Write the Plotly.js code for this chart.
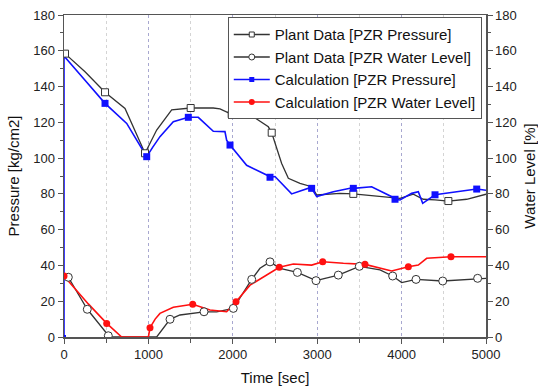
<!DOCTYPE html>
<html><head><meta charset="utf-8">
<script src="https://cdn.plot.ly/plotly-3.0.1.min.js"></script>
<style>html,body{margin:0;padding:0;background:#fff}#c{width:538px;height:388px}</style>
</head><body><div id="c"></div>
<script>
// Plant Data [PZR Pressure]
const plantPT = [12, 249, 486, 723, 960, 1098, 1276, 1501, 1768, 1848, 1987, 2204, 2421, 2461, 2579, 2658, 2796, 2934, 2994, 3270, 3428, 3665, 3902, 3981, 4139, 4257, 4396, 4554, 4771, 5000];
const plantPV = [158.4, 148.3, 136.8, 127.8, 102.7, 115.7, 127, 128, 128, 127.5, 124.5, 124.3, 117.5, 114.2, 97, 88.7, 85.9, 84, 79.4, 80.3, 80, 78.8, 78, 77.5, 79.8, 77, 76.6, 76, 77, 79.8];
const plantPMarkT = [12, 486, 960, 1501, 1987, 2461, 3428, 4554];
const plantPMarkV = [158.4, 136.8, 102.7, 128, 124.5, 114.2, 80, 76];
// Plant Data [PZR Water Level]
const plantLT = [12, 51, 276, 525, 540, 1098, 1256, 1374, 1659, 1809, 1927, 2006, 2224, 2322, 2441, 2559, 2765, 2986, 3250, 3499, 3744, 3894, 4001, 4171, 4487, 4692, 4901, 5000];
const plantLV = [32.8, 33.4, 15.5, 0.7, 0, 0, 9.9, 12.3, 14.1, 14.1, 15.1, 16, 32.2, 38.4, 42, 38.4, 36.1, 31.5, 34.6, 39.5, 37.5, 34.1, 30.4, 32.2, 31.3, 31.9, 32.8, 32.8];
const plantLMarkT = [51, 276, 525, 1256, 1659, 2006, 2224, 2441, 2765, 2986, 3250, 3499, 3894, 4171, 4487, 4901];
const plantLMarkV = [33.4, 15.5, 0.7, 9.9, 14.1, 16, 32.2, 42, 36.1, 31.5, 34.6, 39.5, 34.1, 32.2, 31.3, 32.8];
// Calculation [PZR Pressure]
const calcPT = [0, 0, 249, 486, 743, 980, 1050, 1137, 1295, 1473, 1591, 1769, 1907, 1927, 1967, 2164, 2401, 2441, 2500, 2697, 2915, 2934, 2994, 3191, 3389, 3428, 3645, 3902, 3922, 3981, 4119, 4198, 4250, 4396, 4890, 5000];
const calcPV = [0, 157, 143.5, 130.6, 119.4, 100.8, 106, 112, 120.4, 122.8, 122.8, 115, 114.8, 110, 107.3, 96, 90.6, 89.3, 89.7, 80, 83.5, 83.1, 78.5, 81.2, 83.1, 83.1, 84, 78, 77, 76.6, 80.3, 81.2, 74.7, 79.5, 82.7, 82];
const calcPMarkT = [486, 980, 1473, 1967, 2441, 2934, 3428, 3922, 4396, 4890];
const calcPMarkV = [130.6, 100.8, 122.8, 107.3, 89.3, 83.1, 83.1, 77, 79.5, 82.7];
// Calculation [PZR Water Level]
const calcLT = [0, 288, 506, 683, 1000, 1019, 1080, 1137, 1295, 1525, 1730, 1927, 2038, 2204, 2551, 2717, 2934, 3065, 3310, 3566, 3882, 4080, 4198, 4297, 4585, 5000];
const calcLV = [34.1, 18.5, 7.6, 0, 0, 5.2, 10, 13.2, 16.6, 18.3, 15.1, 14.1, 19.7, 29, 39, 40.8, 40.2, 42.1, 41.2, 40.6, 36.9, 39.3, 40.2, 44, 44.9, 44.9];
const calcLMarkT = [0, 506, 1019, 1525, 2038, 2551, 3065, 3566, 4080, 4585];
const calcLMarkV = [34.1, 7.6, 5.2, 18.3, 19.7, 39, 42.1, 40.6, 39.3, 44.9];

const names = ['Plant Data [PZR Pressure]', 'Plant Data [PZR Water Level]', 'Calculation [PZR Pressure]', 'Calculation [PZR Water Level]'];
const ticks = [0, 1000, 2000, 3000, 4000, 5000];
const yticks = [0, 20, 40, 60, 80, 100, 120, 140, 160, 180];

const blk = '#333333', blu = '#1010ff', red = '#ff1010';
const sqOpen = {symbol: 'square', size: 7, color: '#fff', line: {color: blk, width: 1}};
const ciOpen = {symbol: 'circle', size: 8, color: '#fff', line: {color: blk, width: 1}};
const sqFill = {symbol: 'square', size: 7, color: blu, line: {width: 0}};
const ciFill = {symbol: 'circle', size: 7, color: red, line: {width: 0}};
const sqOpenL = {symbol: 'square', size: 5, color: '#fff', line: {color: blk, width: 1}};
const ciOpenL = {symbol: 'circle', size: 6, color: '#fff', line: {color: blk, width: 1}};
const sqFillL = {symbol: 'square', size: 5, color: blu, line: {width: 0}};
const ciFillL = {symbol: 'circle', size: 6, color: red, line: {width: 0}};

const traces = [
  {x: plantPT, y: plantPV, mode: 'lines', line: {color: blk, width: 1.3}, showlegend: false, yaxis: 'y'},
  {x: plantLT, y: plantLV, mode: 'lines', line: {color: blk, width: 1.3}, showlegend: false, yaxis: 'y2'},
  {x: calcPT, y: calcPV, mode: 'lines', line: {color: blu, width: 1.6}, showlegend: false, yaxis: 'y'},
  {x: calcLT, y: calcLV, mode: 'lines', line: {color: red, width: 1.6}, showlegend: false, yaxis: 'y2'},
  {x: plantPMarkT, y: plantPMarkV, mode: 'markers', marker: sqOpen, showlegend: false, yaxis: 'y'},
  {x: plantLMarkT, y: plantLMarkV, mode: 'markers', marker: ciOpen, showlegend: false, yaxis: 'y2'},
  {x: calcPMarkT, y: calcPMarkV, mode: 'markers', marker: sqFill, showlegend: false, yaxis: 'y'},
  {x: [0], y: [0], mode: 'markers', marker: {symbol: 'square', size: 4, color: blu}, showlegend: false, yaxis: 'y'},
  {x: calcLMarkT, y: calcLMarkV, mode: 'markers', marker: ciFill, showlegend: false, yaxis: 'y2'},
  {x: [null], y: [null], mode: 'lines+markers', name: names[0], line: {color: blk, width: 1.3}, marker: sqOpenL, yaxis: 'y'},
  {x: [null], y: [null], mode: 'lines+markers', name: names[1], line: {color: blk, width: 1.3}, marker: ciOpenL, yaxis: 'y'},
  {x: [null], y: [null], mode: 'lines+markers', name: names[2], line: {color: blu, width: 1.6}, marker: sqFillL, yaxis: 'y'},
  {x: [null], y: [null], mode: 'lines+markers', name: names[3], line: {color: red, width: 1.6}, marker: ciFillL, yaxis: 'y'}
];

const ff = 'Arial, Liberation Sans, sans-serif';
const axFont = {family: ff, size: 13, color: '#222'};
const layout = {
  width: 538, height: 388,
  margin: {l: 64, r: 52, t: 15, b: 51},
  paper_bgcolor: '#fff', plot_bgcolor: '#fff',
  font: axFont,
  xaxis: {
    range: [0, 5000], tickvals: ticks, ticktext: ticks.map(String),
    showline: true, mirror: true, linecolor: '#555', linewidth: 1.5,
    ticks: 'outside', ticklen: 5, tickcolor: '#555',
    showgrid: true, gridcolor: '#a8a8d0', griddash: 'dot', gridwidth: 1,
    minor: {dtick: 500, tick0: 0, showgrid: true, gridcolor: '#d4d4d4', griddash: 'dot', ticks: 'outside', ticklen: 4, tickcolor: '#555'},
    zeroline: false, tickfont: axFont,
    title: {text: 'Time [sec]', font: {family: ff, size: 15, color: '#111'}, standoff: 11}
  },
  yaxis: {
    range: [0, 180], tickvals: yticks,
    showline: true, mirror: true, linecolor: '#555', linewidth: 1.5,
    ticks: 'outside', ticklen: 5, tickcolor: '#555',
    minor: {dtick: 10, ticks: 'outside', ticklen: 3, tickcolor: '#555'},
    showgrid: false, zeroline: false, tickfont: axFont,
    title: {text: 'Pressure [kg/cm2]', font: {family: ff, size: 15, color: '#111'}, standoff: 10}
  },
  yaxis2: {
    range: [0, 180], tickvals: yticks, overlaying: 'y', side: 'right',
    showline: true, linecolor: '#555', linewidth: 1.5,
    ticks: 'outside', ticklen: 5, tickcolor: '#555',
    minor: {dtick: 10, ticks: 'outside', ticklen: 3, tickcolor: '#555'},
    showgrid: false, zeroline: false, tickfont: axFont,
    title: {text: 'Water Level [%]', font: {family: ff, size: 15, color: '#111'}, standoff: 8}
  },
  legend: {
    x: 0.99, y: 0.993, xanchor: 'right', yanchor: 'top',
    bgcolor: '#fff', bordercolor: '#555', borderwidth: 1,
    font: {family: ff, size: 15, color: '#111'},
    itemwidth: 36, tracegroupgap: 0
  },
  showlegend: true
};
Plotly.newPlot('c', traces, layout, {staticPlot: true, displayModeBar: false});
</script></body></html>
